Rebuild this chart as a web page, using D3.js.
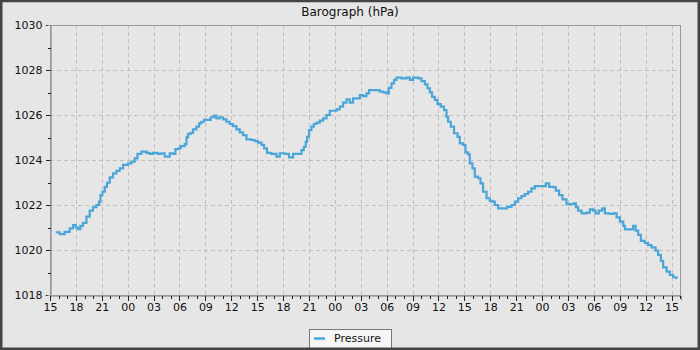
<!DOCTYPE html>
<html><head><meta charset="utf-8">
<script src="https://cdn.jsdelivr.net/npm/d3@7"></script>
<style>
html,body{margin:0;padding:0;background:#e6e6e6;}
svg{display:block;font-family:"DejaVu Sans",sans-serif;}
</style></head>
<body><svg id="c" width="700" height="350"></svg>
<script>
const title = "Barograph (hPa)";
const seriesName = "Pressure";
const startTime = Date.UTC(2024, 0, 1, 15, 0);   // 15:00 on day 1
const spanHours = 73.1;
const yTicks = [1018, 1020, 1022, 1024, 1026, 1028, 1030];
const yMinorTicks = [1019, 1021, 1023, 1025, 1027, 1029];
// hours since start
const hours = [0.66,1.12,1.70,2.28,2.67,2.98,3.24,3.52,3.82,4.22,4.60,4.98,5.38,5.68,5.84,6.07,6.34,6.60,6.92,7.30,7.69,8.08,8.46,9.04,9.43,9.81,10.13,10.59,11.17,11.55,11.94,12.51,12.91,13.29,13.87,14.25,14.53,14.91,15.14,15.61,15.81,15.99,16.30,16.57,16.96,17.27,17.54,17.84,18.31,18.62,19.00,19.28,19.66,20.05,20.44,20.82,21.21,21.60,21.98,22.36,22.76,23.34,23.72,24.10,24.50,24.80,25.14,25.65,26.23,26.62,27.20,27.69,28.16,28.74,29.13,29.40,29.63,29.78,30.01,30.29,30.56,30.87,31.25,31.63,32.03,32.41,32.79,33.19,33.57,33.95,34.35,34.73,35.11,35.50,35.89,36.27,36.66,36.96,37.24,37.82,38.20,38.59,38.98,39.25,39.56,39.86,40.14,40.72,41.30,41.68,42.06,42.64,43.04,43.42,43.73,44.00,44.26,44.58,44.89,45.27,45.65,45.93,46.12,46.43,46.81,47.21,47.47,47.86,48.13,48.44,48.63,48.94,49.21,49.59,49.87,50.17,50.57,50.95,51.26,51.53,51.91,52.49,52.96,53.46,53.85,54.23,54.62,55.01,55.39,55.78,56.16,56.74,57.13,57.44,57.82,58.29,58.60,58.98,59.37,59.84,60.42,60.68,60.92,61.18,61.58,62.16,62.54,62.93,63.20,63.58,63.97,64.28,64.86,65.25,65.64,66.02,66.41,66.60,67.18,67.56,67.84,68.14,68.45,68.91,69.29,69.69,70.15,70.45,70.77,71.03,71.43,71.81,72.19,72.56];
const pressure = [1020.79,1020.71,1020.81,1020.96,1021.11,1021.00,1020.93,1021.07,1021.21,1021.48,1021.75,1021.90,1022.00,1022.15,1022.44,1022.59,1022.81,1022.99,1023.23,1023.41,1023.52,1023.63,1023.78,1023.85,1023.93,1024.07,1024.27,1024.37,1024.32,1024.27,1024.32,1024.27,1024.30,1024.15,1024.30,1024.27,1024.48,1024.52,1024.62,1024.71,1025.01,1025.16,1025.21,1025.36,1025.48,1025.63,1025.70,1025.78,1025.78,1025.90,1025.97,1025.85,1025.90,1025.81,1025.70,1025.60,1025.51,1025.36,1025.23,1025.11,1024.92,1024.89,1024.84,1024.77,1024.67,1024.52,1024.32,1024.27,1024.15,1024.30,1024.27,1024.12,1024.27,1024.27,1024.44,1024.59,1024.81,1025.03,1025.33,1025.48,1025.60,1025.66,1025.75,1025.85,1026.00,1026.19,1026.19,1026.25,1026.37,1026.55,1026.70,1026.55,1026.74,1026.74,1026.89,1026.84,1026.96,1027.11,1027.11,1027.11,1027.04,1027.01,1026.96,1027.21,1027.41,1027.56,1027.66,1027.63,1027.66,1027.56,1027.66,1027.63,1027.51,1027.36,1027.19,1027.01,1026.81,1026.67,1026.48,1026.37,1026.22,1025.92,1025.70,1025.48,1025.19,1025.03,1024.74,1024.67,1024.34,1024.25,1023.85,1023.63,1023.26,1023.19,1022.96,1022.59,1022.30,1022.18,1022.15,1022.00,1021.85,1021.85,1021.92,1022.00,1022.15,1022.30,1022.40,1022.49,1022.59,1022.74,1022.84,1022.84,1022.84,1022.96,1022.81,1022.79,1022.64,1022.44,1022.25,1022.04,1022.04,1022.07,1021.90,1021.75,1021.63,1021.66,1021.81,1021.75,1021.63,1021.75,1021.85,1021.63,1021.60,1021.63,1021.45,1021.26,1021.07,1020.92,1020.92,1021.07,1020.86,1020.67,1020.41,1020.32,1020.22,1020.12,1019.97,1019.78,1019.52,1019.23,1019.04,1018.89,1018.79,1018.70];

const svg = d3.select("#c");
const W = 700, H = 350;
const plot = {left: 50, top: 25, right: 681, bottom: 295};

svg.append("rect").attr("x",0).attr("y",0).attr("width",W).attr("height",H).attr("fill","#e6e6e6");

const x = d3.scaleUtc()
  .domain([new Date(startTime), new Date(startTime + spanHours*3600e3)])
  .range([plot.left, plot.right]);
const y = d3.scaleLinear().domain([1018, 1030]).range([plot.bottom, plot.top]);

const majorX = x.ticks(d3.utcHour.every(3));
const minorX = x.ticks(d3.utcHour.every(1));

// grid
const grid = svg.append("g").attr("stroke","#c0c0c0").attr("stroke-width",1).attr("stroke-dasharray","4,3").attr("shape-rendering","crispEdges");
grid.selectAll("line.v").data(majorX.filter(d => x(d) > plot.left+1)).join("line")
  .attr("x1", d => Math.round(x(d))+0.5).attr("x2", d => Math.round(x(d))+0.5)
  .attr("y1", plot.top).attr("y2", plot.bottom);
grid.selectAll("line.h").data(yTicks.filter(v => v > 1018 && v < 1030)).join("line")
  .attr("x1", plot.left).attr("x2", plot.right)
  .attr("y1", d => Math.round(y(d))+0.5).attr("y2", d => Math.round(y(d))+0.5);

// frame
svg.append("rect").attr("x", plot.left+0.5).attr("y", plot.top+0.5)
  .attr("width", plot.right-plot.left-1).attr("height", plot.bottom-plot.top)
  .attr("fill","none").attr("stroke","#999").attr("shape-rendering","crispEdges");

// axes
const xAxis = d3.axisBottom(x).tickValues(majorX).tickFormat(d3.utcFormat("%H")).tickSize(5).tickPadding(3);
const gx = svg.append("g").attr("transform", `translate(0,${plot.bottom+0.5})`).call(xAxis);
const xMinor = d3.axisBottom(x).tickValues(minorX).tickFormat("").tickSize(3);
svg.append("g").attr("transform", `translate(0,${plot.bottom+0.5})`).call(xMinor);

const yAxis = d3.axisLeft(y).tickValues(yTicks).tickFormat(d3.format("d")).tickSize(5).tickPadding(3);
const gy = svg.append("g").attr("transform", `translate(${plot.left+0.5},0)`).call(yAxis);
const yMinor = d3.axisLeft(y).tickValues(yMinorTicks).tickFormat("").tickSize(3);
svg.append("g").attr("transform", `translate(${plot.left+0.5},0)`).call(yMinor);

svg.selectAll(".domain").attr("stroke","#999");
svg.selectAll(".tick line").attr("stroke","#222").attr("shape-rendering","crispEdges");
svg.selectAll(".tick text").attr("fill","#111").attr("font-size","11px").attr("font-family","DejaVu Sans");

// line
const pts = hours.map((h,i) => ({t: new Date(startTime + h*3600e3), p: pressure[i]}));
const line = d3.line().x(d => x(d.t)).y(d => y(d.p)).curve(d3.curveStepAfter);
svg.append("path").datum(pts).attr("d", line)
  .attr("fill","none").attr("stroke","#4aa6d8").attr("stroke-width",2.2);

// title
svg.append("text").attr("x", 350).attr("y", 16).attr("text-anchor","middle")
  .attr("font-size","12px").attr("fill","#111").text(title);

// legend
const lg = svg.append("g");
lg.append("rect").attr("x",309.5).attr("y",329.5).attr("width",82).attr("height",19)
  .attr("fill","#f6f6f6").attr("stroke","#777");
lg.append("line").attr("x1",314).attr("x2",325).attr("y1",338.5).attr("y2",338.5)
  .attr("stroke","#4aa6d8").attr("stroke-width",2.5);
lg.append("text").attr("x",334).attr("y",342).attr("font-size","11px").attr("fill","#111").text(seriesName);

// outer border
svg.append("rect").attr("x",1.25).attr("y",1).attr("width",W-2.5).attr("height",H-2.25)
  .attr("fill","none").attr("stroke","#444").attr("stroke-width",2.5);
</script></body></html>
